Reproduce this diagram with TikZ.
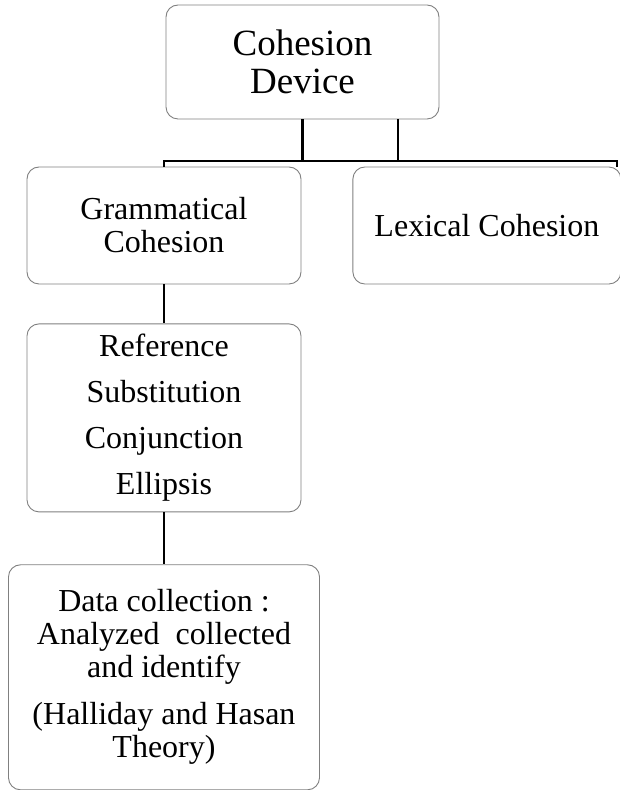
\documentclass[tikz,border=0pt]{standalone}
\usepackage{fontspec}
\setmainfont{Liberation Serif}
\usetikzlibrary{positioning}

\begin{document}
\begin{tikzpicture}[
    x=1pt, y=1pt,
    node distance=39pt and 51pt,
    box/.style={draw=gray, line width=0.9pt, rounded corners=12pt, align=center, inner sep=0pt, font=\fontsize{32}{33}\selectfont},
    link/.style={line width=2.6pt},
]
    \useasboundingbox (0,0) rectangle (619,790);

    \node[box, minimum width=273pt, minimum height=114pt, font=\fontsize{37}{38}\selectfont] (device) at (302.5,728) {Cohesion\\Device};

    \node[box, minimum width=274pt, minimum height=117pt] (gram) at (164,564.5) {Grammatical\\Cohesion};
    \node[box, minimum width=268pt, minimum height=117pt, right=of gram] (lex) {Lexical Cohesion};

    \node[box, minimum width=274pt, minimum height=188pt, below=of gram, font=\fontsize{32}{46}\selectfont] (types) {Reference\\Substitution\\Conjunction\\Ellipsis};
    \node[box, minimum width=311pt, minimum height=225pt, below=52pt of types] (data) {Data collection :\\Analyzed\ \ collected\\and identify\\[14pt](Halliday and Hasan\\Theory)};

    \coordinate (busR) at (617,629);
    \coordinate (tap) at (398,0);

    \draw[link] (gram.north) |- (busR) -- (busR |- lex.north);
    \draw[link] (device.south) -- (device.south |- busR);
    \draw[link] (tap |- device.south) -- (tap |- busR);
    \draw[link] (gram) -- (types);
    \draw[link] (types) -- (data);
\end{tikzpicture}
\end{document}
